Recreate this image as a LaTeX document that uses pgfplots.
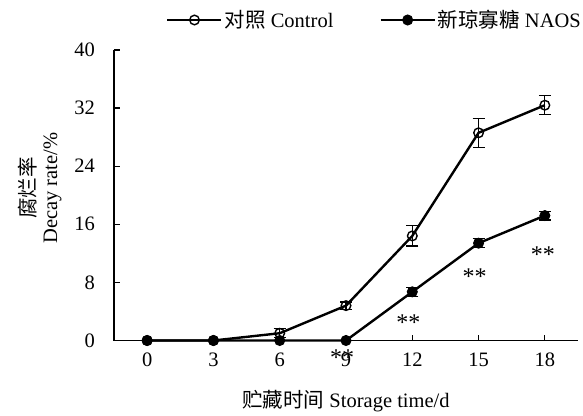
\documentclass[border=0pt]{standalone}
\usepackage{fontspec}
\setmainfont{Liberation Serif}
\newfontfamily\cjk{Noto Sans CJK SC}
\usepackage{pgfplots}
\pgfplotsset{compat=1.18}
\begin{document}
\begin{tikzpicture}[font=\fontsize{20.5}{22}\selectfont]
\begin{axis}[
  scale only axis, width=464pt, height=290.5pt,
  xmin=-1.5, xmax=19.5, ymin=0, ymax=40,
  axis lines*=left,
  clip=false,
  xtick={0,3,...,18}, ytick={0,8,...,40},
  tick align=inside, major tick length=6pt,
  tick style={line width=1.2pt, black},
  axis line style={line width=1.4pt, black},
  /pgf/number format/assume math mode=true,
  xticklabel style={anchor=north, inner sep=0pt, yshift=-12pt},
  yticklabel style={anchor=east, inner sep=0pt, xshift=-19pt},
  xlabel={{\cjk 贮藏时间} Storage time/d},
  xlabel style={at={(rel axis cs:0.5,0)}, anchor=center, yshift=-61pt},
  ylabel={{\cjk 腐烂率}\\Decay rate/\%},
  ylabel style={align=center, at={(rel axis cs:-0.16,0.525)}, anchor=center},
  legend columns=2,
  legend style={draw=none, fill=none, at={(rel axis cs:1,1)}, anchor=east,
    xshift=5pt, yshift=30pt, inner sep=0pt,
    nodes={inner sep=2pt},
    /tikz/every even column/.append style={column sep=44pt}},
  legend cell align=left,
  legend image code/.code={\draw[mark repeat=2,mark phase=2] plot coordinates {(0pt,0pt)(27pt,0pt)(54pt,0pt)};},
  error bars/error bar style={line width=1.2pt, black},
  error bars/error mark options={rotate=90, mark size=6pt, line width=1.2pt, black},
]
\addplot[black, line width=2.4pt, mark=o, mark size=4.8pt, mark options={fill=white, line width=1.4pt, solid},
  error bars/.cd, y dir=both, y explicit]
  coordinates {
  (0,0) +- (0,0)
  (3,0) +- (0,0)
  (6,1.0) +- (0,0.6)
  (9,4.8) +- (0,0.5)
  (12,14.4) +- (0,1.4)
  (15,28.6) +- (0,2.0)
  (18,32.4) +- (0,1.3)
  };
\addlegendentry{{\cjk 对照} Control}
\addplot[black, line width=2.4pt, mark=*, mark size=5pt, mark options={fill=black, line width=1pt, solid},
  error bars/.cd, y dir=both, y explicit]
  coordinates {
  (0,0) +- (0,0)
  (3,0) +- (0,0)
  (6,0) +- (0,0)
  (9,0) +- (0,0)
  (12,6.7) +- (0,0.6)
  (15,13.4) +- (0,0.6)
  (18,17.2) +- (0,0.6)
  };
\addlegendentry{{\cjk 新琼寡糖} NAOS}
\node[font=\fontsize{24}{24}\selectfont, xshift=-4pt, yshift=-6pt] at (axis cs:9,-1.55) {**};
\node[font=\fontsize{24}{24}\selectfont, xshift=-4pt, yshift=-6pt] at (axis cs:12,3.25) {**};
\node[font=\fontsize{24}{24}\selectfont, xshift=-4pt, yshift=-6pt] at (axis cs:15,9.6) {**};
\node[font=\fontsize{24}{24}\selectfont, xshift=-2pt, yshift=-6pt] at (axis cs:18,12.6) {**};
\coordinate (SW) at (rel axis cs:0,0);
\end{axis}
\path ([shift={(-114pt,-74.5pt)}]SW) rectangle ++(583pt,415pt);
\end{tikzpicture}
\end{document}
